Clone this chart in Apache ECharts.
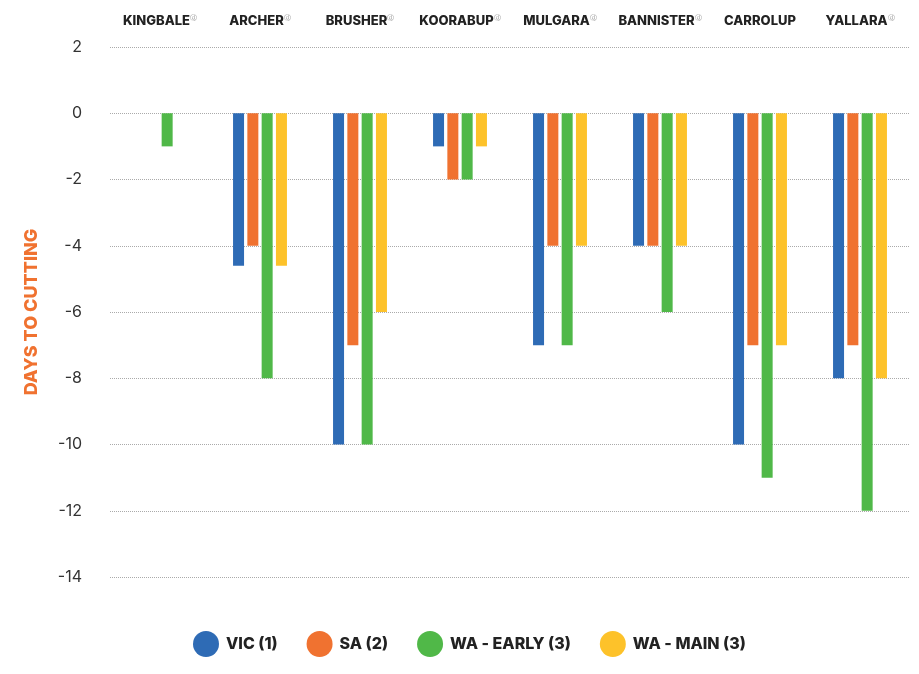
<!DOCTYPE html>
<html><head><meta charset="utf-8">
<script src="https://cdn.jsdelivr.net/npm/echarts@6/dist/echarts.min.js"></script>
<style>html,body{margin:0;padding:0;background:#fff}#c{width:919px;height:674px}</style>
</head><body><div id="c"></div>
<script>
var categories = ['KINGBALE','ARCHER','BRUSHER','KOORABUP','MULGARA','BANNISTER','CARROLUP','YALLARA'];
var pbr = [true,true,true,true,true,true,false,true];
var vic = [null,-4.6,-10,-1,-7,-4,-10,-8];
var sa = [null,-4,-7,-2,-4,-4,-7,-7];
var waEarly = [-1,-8,-10,-2,-7,-6,-11,-12];
var waMain = [null,-4.6,-6,-1,-4,-4,-7,-8];
var legendNames = ['VIC (1)','SA (2)','WA - EARLY (3)','WA - MAIN (3)'];

var chart = echarts.init(document.getElementById('c'));
var font = 'Inter';
function mk(name, data, color){
  return {name:name,type:'bar',data:data,barWidth:11,barGap:'30%',itemStyle:{color:color}};
}
chart.setOption({
  animation:false,
  textStyle:{fontFamily:font},
  grid:{left:110,right:9,top:47,bottom:97},
  legend:{bottom:12,left:188,icon:'circle',itemWidth:26,itemHeight:26,itemGap:29,
    data:legendNames,
    textStyle:{fontFamily:font,fontWeight:800,fontSize:16,color:'#222',padding:[0,0,0,2]}},
  xAxis:{type:'category',position:'top',data:categories,
    axisLine:{show:false},axisTick:{show:false},
    axisLabel:{margin:19,interval:0,
      formatter:function(v,i){return '{a|'+v+'}'+(pbr[i]?'{s|ⓓ}':'');},
      rich:{a:{fontFamily:font,fontWeight:800,fontSize:13,color:'#222'},
            s:{fontFamily:'DejaVu Sans',fontSize:7,color:'#999',verticalAlign:'top',padding:[0,0,6,0]}}}},
  yAxis:{type:'value',min:-14,max:2,interval:2,
    name:'DAYS TO CUTTING',nameLocation:'middle',nameGap:69,nameRotate:90,
    nameTextStyle:{color:'#f07230',fontWeight:800,fontSize:18,fontFamily:font},
    axisLine:{show:false},axisTick:{show:false},
    axisLabel:{fontSize:16,color:'#333',margin:28,fontFamily:font,formatter:function(v){return v<0?'-'+Math.abs(v):String(v);}},
    splitLine:{lineStyle:{type:'dotted',color:'#aaa',width:1}}},
  series:[mk(legendNames[0],vic,'#2e6bb5'),mk(legendNames[1],sa,'#f07230'),mk(legendNames[2],waEarly,'#50b848'),mk(legendNames[3],waMain,'#fdc22a')]
});
</script></body></html>
